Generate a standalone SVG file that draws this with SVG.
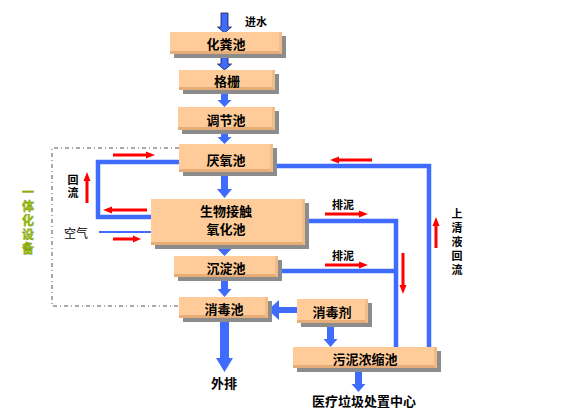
<svg xmlns="http://www.w3.org/2000/svg" width="568" height="412" viewBox="0 0 568 412">
<style>
.sh{fill:#8c8c8c}
.bx{fill:#FFCC99}
.bb{fill:#E6AD78}
.br{fill:#F0BC88}
.t{font-family:"Noto Sans CJK SC","Noto Sans CJK JP",sans-serif;font-weight:bold;font-size:13px;fill:#000;text-anchor:middle;dominant-baseline:central}
.s{font-family:"Noto Sans CJK SC","Noto Sans CJK JP",sans-serif;font-weight:bold;font-size:11px;fill:#000;text-anchor:middle;dominant-baseline:central}
.v{font-family:"Noto Sans CJK SC","Noto Sans CJK JP",sans-serif;font-weight:bold;font-size:11px;fill:#000;writing-mode:vertical-rl}
.n{font-family:"Noto Sans CJK SC","Noto Sans CJK JP",sans-serif;font-size:12px;fill:#000;text-anchor:middle;dominant-baseline:central}
.g{font-family:"Noto Sans CJK SC","Noto Sans CJK JP",sans-serif;font-weight:bold;font-size:12px;fill:#99CC00;stroke:#5a6e00;stroke-width:0.3;writing-mode:vertical-rl;letter-spacing:2px}
.bl{fill:none;stroke:#3F6BFF;stroke-width:4.5}
.ba{fill:#3F6BFF}
.bo{fill:#3F6BFF;stroke:#1a1a40;stroke-width:0.8}
.ra{fill:#FF0000}
.dd{fill:none;stroke:#555;stroke-width:1;stroke-dasharray:4 3 1 3}
</style>

<g id="dashed-frame">
<path class="dd" d="M179,148 H52 V306 H179"/>
</g>

<g id="connectors">
<path class="bl" d="M179,162 H98 V217 H151"/>
<line x1="99" y1="232" x2="151" y2="232" stroke="#3F6BFF" stroke-width="2"/>
<path class="bl" d="M273,166 H429 V347"/>
<path class="bl" d="M305,221 H396 V347"/>
<path class="bl" d="M278,271 H396"/>
<path class="bo" d="M221,13 H228 V27 H231.5 L224.5,33 L217.5,27 H221 Z"/>
<path class="bo" d="M221,55 H228 V64 H231.5 L224.5,70 L217.5,64 H221 Z"/>
<path class="ba" d="M221,90 H228 V100 H231.5 L224.5,107 L217.5,100 H221 Z"/>
<path class="ba" d="M221,130 H228 V137 H231.5 L224.5,144 L217.5,137 H221 Z"/>
<path class="ba" d="M221,172 H228 V189 H232 L224.5,198 L217,189 H221 Z"/>
<path class="ba" d="M221,245 H228 V249 H231.5 L224.5,256 L217.5,249 H221 Z"/>
<path class="ba" d="M221,277 H228 V289 H231.5 L224.5,297 L217.5,289 H221 Z"/>
<path class="ba" d="M220,318 H229 V358 H233 L224.5,372 L216,358 H220 Z"/>
<path class="ba" d="M297,307 V313 H279 V320 L268,310 L279,300 V307 Z"/>
<path class="ba" d="M327,323 H334 V339 H337.5 L330.5,347 L323.5,339 H327 Z"/>
<path class="ba" d="M355,368 H362 V384 H365.5 L358.5,392 L351.5,384 H355 Z"/>
<path class="ra" d="M113,153.5 H146 V151.5 L155,155 L146,158.5 V156.5 H113 Z"/>
<path class="ra" d="M147,208.5 H112 V206.5 L103,210 L112,213.5 V211.5 H147 Z"/>
<path class="ra" d="M85.5,203 V181 H83.5 L87,172 L90.5,181 H88.5 V203 Z"/>
<path class="ra" d="M113,237.5 H133 V235.5 L141,239 L133,242.5 V240.5 H113 Z"/>
<path class="ra" d="M372,158.5 H339 V156.5 L330,160 L339,163.5 V161.5 H372 Z"/>
<path class="ra" d="M434.5,248 V226 H432.5 L436,217 L439.5,226 H437.5 V248 Z"/>
<path class="ra" d="M325,212.5 H359 V210.5 L368,214 L359,217.5 V215.5 H325 Z"/>
<path class="ra" d="M325,263.5 H359 V261.5 L368,265 L359,268.5 V266.5 H325 Z"/>
<path class="ra" d="M401.5,253 V285 H399.5 L403,294 L406.5,285 H404.5 V253 Z"/>
</g>

<g id="n-huafenchi">
<rect class="sh" x="174" y="36" width="112" height="22"/>
<rect class="bx" x="170" y="32" width="112" height="22"/>
<path class="bb" d="M170,51 H279 L282,54 H170 Z"/><path class="br" d="M279,32 H282 V54 L279,51 Z"/>
<text class="t" x="226" y="43">化粪池</text>
</g>
<g id="n-geshan">
<rect class="sh" x="183" y="74" width="96" height="20"/>
<rect class="bx" x="179" y="70" width="96" height="20"/>
<path class="bb" d="M179,87 H272 L275,90 H179 Z"/><path class="br" d="M272,70 H275 V90 L272,87 Z"/>
<text class="t" x="227" y="80">格栅</text>
</g>
<g id="n-tiaojiechi">
<rect class="sh" x="182" y="111" width="97" height="23"/>
<rect class="bx" x="178" y="107" width="97" height="23"/>
<path class="bb" d="M178,127 H272 L275,130 H178 Z"/><path class="br" d="M272,107 H275 V130 L272,127 Z"/>
<text class="t" x="226" y="119">调节池</text>
</g>
<g id="n-yanyangchi">
<rect class="sh" x="183" y="148" width="94" height="28"/>
<rect class="bx" x="179" y="144" width="94" height="28"/>
<path class="bb" d="M179,169 H270 L273,172 H179 Z"/><path class="br" d="M270,144 H273 V172 L270,169 Z"/>
<text class="t" x="226" y="159">厌氧池</text>
</g>
<g id="n-shengwu">
<rect class="sh" x="155" y="203" width="154" height="46"/>
<rect class="bx" x="151" y="199" width="154" height="46"/>
<path class="bb" d="M151,242 H302 L305,245 H151 Z"/><path class="br" d="M302,199 H305 V245 L302,242 Z"/>
<text class="t" x="226" y="210">生物接触<tspan x="226" dy="18">氧化池</tspan></text>
</g>
<g id="n-chendianchi">
<rect class="sh" x="178" y="260" width="104" height="21"/>
<rect class="bx" x="174" y="256" width="104" height="21"/>
<path class="bb" d="M174,274 H275 L278,277 H174 Z"/><path class="br" d="M275,256 H278 V277 L275,274 Z"/>
<text class="t" x="226" y="267">沉淀池</text>
</g>
<g id="n-xiaoduchi">
<rect class="sh" x="183" y="301" width="89" height="21"/>
<rect class="bx" x="179" y="297" width="89" height="21"/>
<path class="bb" d="M179,315 H265 L268,318 H179 Z"/><path class="br" d="M265,297 H268 V318 L265,315 Z"/>
<text class="t" x="224" y="308">消毒池</text>
</g>
<g id="n-xiaoduji">
<rect class="sh" x="301" y="303" width="71" height="24"/>
<rect class="bx" x="297" y="299" width="71" height="24"/>
<path class="bb" d="M297,320 H365 L368,323 H297 Z"/><path class="br" d="M365,299 H368 V323 L365,320 Z"/>
<text class="t" x="332" y="311">消毒剂</text>
</g>
<g id="n-wunichi">
<rect class="sh" x="297" y="351" width="144" height="21"/>
<rect class="bx" x="293" y="347" width="144" height="21"/>
<path class="bb" d="M293,365 H434 L437,368 H293 Z"/><path class="br" d="M434,347 H437 V368 L434,365 Z"/>
<text class="t" x="365" y="358">污泥浓缩池</text>
</g>

<g id="labels">
<text class="s" x="256" y="21">进水</text>
<text class="t" x="224" y="382">外排</text>
<text class="t" x="364" y="400">医疗垃圾处置中心</text>
<text class="s" x="343" y="204">排泥</text>
<text class="s" x="343" y="255">排泥</text>
<text class="n" x="76" y="232">空气</text>
<text class="v" x="73" y="174" style="letter-spacing:2px">回流</text>
<text class="v" x="457" y="208" style="letter-spacing:3px">上清液回流</text>
<text class="g" x="28" y="186">一体化设备</text>
</g>
</svg>
